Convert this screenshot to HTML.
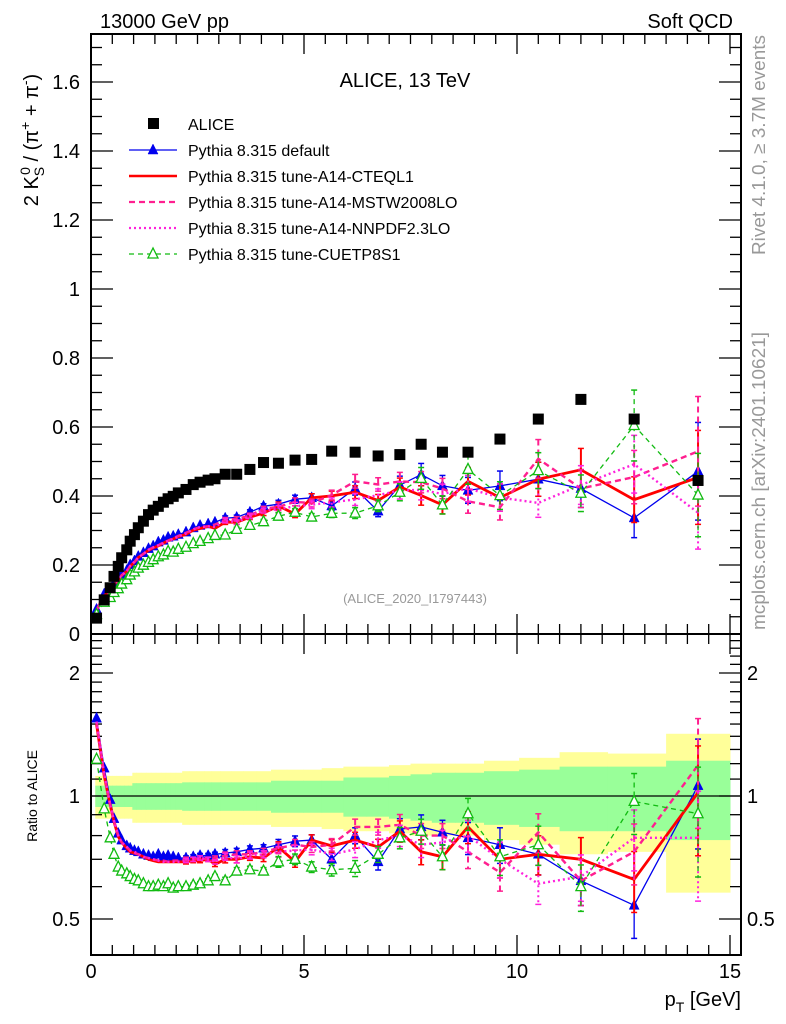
<!DOCTYPE html>
<html><head><meta charset="utf-8"><style>
body{margin:0;background:#fff;}
svg{display:block;font-family:"Liberation Sans",sans-serif;}
</style></head><body>
<svg id="chart" width="786" height="1024" viewBox="0 0 786 1024" xmlns="http://www.w3.org/2000/svg">
<defs>
<clipPath id="cm"><rect x="91" y="34" width="650" height="600"/></clipPath>
<clipPath id="cr"><rect x="91" y="634" width="650" height="321"/></clipPath>
</defs>
<g id="bands" clip-path="url(#cr)"></g>
<g id="grid"></g>
<g id="marks"></g>
<text x="100" y="28" font-size="20">13000 GeV pp</text>
<text x="733" y="28" font-size="20" text-anchor="end">Soft QCD</text>
<text x="405" y="87" font-size="20" text-anchor="middle">ALICE, 13 TeV</text>
<text x="415" y="603" font-size="13" fill="#999" text-anchor="middle">(ALICE_2020_I1797443)</text>
<text transform="translate(765,255) rotate(-90)" font-size="18.5" fill="#999" textLength="220" lengthAdjust="spacingAndGlyphs">Rivet 4.1.0, ≥ 3.7M events</text>
<text transform="translate(765,630) rotate(-90)" font-size="18.5" fill="#999" textLength="298" lengthAdjust="spacingAndGlyphs">mcplots.cern.ch [arXiv:2401.10621]</text>
<text transform="translate(38,140) rotate(-90)" font-size="20" text-anchor="middle">2 K<tspan font-size="14" dy="6">S</tspan><tspan font-size="14" dy="-14" dx="-8">0</tspan><tspan dy="8"> / (π</tspan><tspan font-size="14" dy="-8">+</tspan><tspan dy="8"> + π</tspan><tspan font-size="14" dy="-8">-</tspan><tspan dy="8">)</tspan></text>
<text transform="translate(37,796) rotate(-90)" font-size="14" text-anchor="middle">Ratio to ALICE</text>
<text x="741" y="1006" font-size="20" text-anchor="end">p<tspan font-size="14" dy="6">T</tspan><tspan dy="-6"> [GeV]</tspan></text>
<g id="legend"></g>
</svg>
<script>
const pt=[0.13,0.31,0.45,0.54,0.64,0.72,0.84,0.92,1.02,1.11,1.23,1.35,1.46,1.58,1.70,1.81,1.93,2.05,2.23,2.40,2.56,2.75,2.91,3.15,3.42,3.73,4.05,4.4,4.79,5.18,5.65,6.2,6.74,7.25,7.75,8.25,8.85,9.6,10.5,11.5,12.75,14.25];
const alice=[0.046,0.099,0.134,0.167,0.196,0.221,0.244,0.269,0.288,0.308,0.327,0.346,0.359,0.370,0.382,0.392,0.399,0.409,0.419,0.433,0.440,0.446,0.450,0.463,0.463,0.477,0.497,0.495,0.504,0.506,0.530,0.527,0.516,0.52,0.55,0.527,0.527,0.565,0.623,0.68,0.623,0.445];
const ratioDefault=[1.55,1.17,0.98,0.88,0.81,0.78,0.755,0.745,0.735,0.73,0.72,0.715,0.71,0.72,0.71,0.715,0.71,0.705,0.705,0.71,0.715,0.715,0.72,0.725,0.73,0.74,0.745,0.76,0.775,0.78,0.70,0.80,0.69,0.83,0.84,0.815,0.79,0.76,0.72,0.62,0.54,1.06];
const ratioCTEQ=[1.50,1.12,0.95,0.865,0.795,0.77,0.745,0.73,0.725,0.72,0.71,0.70,0.695,0.69,0.69,0.69,0.69,0.69,0.69,0.695,0.695,0.70,0.68,0.70,0.70,0.71,0.705,0.75,0.69,0.78,0.755,0.78,0.75,0.82,0.73,0.71,0.84,0.70,0.72,0.70,0.625,1.02];
const ratioMSTW=[1.52,1.13,0.955,0.87,0.80,0.77,0.75,0.735,0.725,0.72,0.71,0.705,0.70,0.695,0.695,0.69,0.695,0.695,0.70,0.70,0.705,0.70,0.705,0.715,0.72,0.72,0.73,0.745,0.76,0.75,0.76,0.84,0.84,0.85,0.80,0.80,0.73,0.65,0.815,0.62,0.73,1.19];
const ratioNNPDF=[1.52,1.13,0.95,0.87,0.80,0.77,0.75,0.735,0.73,0.72,0.71,0.705,0.70,0.695,0.69,0.69,0.69,0.69,0.695,0.70,0.705,0.70,0.69,0.71,0.70,0.715,0.72,0.73,0.735,0.74,0.72,0.74,0.78,0.80,0.76,0.77,0.80,0.70,0.61,0.635,0.79,0.79];
const ratioCUETP=[1.23,0.93,0.79,0.72,0.67,0.655,0.645,0.635,0.625,0.62,0.61,0.60,0.60,0.605,0.60,0.61,0.595,0.60,0.60,0.605,0.61,0.62,0.635,0.62,0.655,0.66,0.655,0.69,0.70,0.67,0.66,0.665,0.72,0.79,0.82,0.71,0.905,0.71,0.76,0.60,0.97,0.905];
const modelRelErr=[0.006,0.006,0.006,0.006,0.006,0.006,0.006,0.006,0.006,0.006,0.006,0.006,0.006,0.006,0.006,0.006,0.006,0.006,0.012,0.012,0.012,0.012,0.012,0.02,0.02,0.02,0.02,0.03,0.03,0.03,0.035,0.045,0.045,0.06,0.07,0.07,0.09,0.1,0.11,0.13,0.17,0.3];
const totalUnc=[0.12,0.12,0.12,0.12,0.12,0.12,0.12,0.12,0.14,0.14,0.14,0.14,0.14,0.14,0.14,0.14,0.14,0.14,0.15,0.15,0.15,0.15,0.15,0.15,0.15,0.15,0.15,0.16,0.16,0.16,0.17,0.18,0.18,0.19,0.2,0.2,0.2,0.22,0.24,0.28,0.27,0.42];
const statUnc=[0.06,0.06,0.06,0.06,0.06,0.06,0.06,0.06,0.075,0.075,0.075,0.075,0.075,0.075,0.075,0.075,0.075,0.075,0.08,0.08,0.08,0.08,0.08,0.08,0.08,0.08,0.08,0.09,0.09,0.09,0.09,0.11,0.11,0.12,0.13,0.14,0.14,0.15,0.16,0.18,0.18,0.22];
const xTickLabels=["0","5","10","15"];
const yTickLabels=["0","0.2","0.4","0.6","0.8","1","1.2","1.4","1.6"];
const ratioTickLabels=["0.5","1","2"];

const NS="http://www.w3.org/2000/svg";
const X=p=>91+p*42.6;
const Y=v=>634-v*345;
const R=r=>796-123*Math.log2(r);
function mk(tag,attrs,parent){const e=document.createElementNS(NS,tag);for(const k in attrs)e.setAttribute(k,attrs[k]);parent.appendChild(e);return e;}
const grid=document.getElementById('grid'),marks=document.getElementById('marks'),bands=document.getElementById('bands');

const edges=[0.1];
for(let i=0;i<pt.length-1;i++)edges.push((pt[i]+pt[i+1])/2);
edges.push(15);
[[totalUnc,'#ffff99'],[statUnc,'#99ff99']].forEach(([u,c],bi)=>{
  for(let i=0;i<pt.length;i++){
    const r=mk('rect',{x:X(edges[i]),y:R(1+u[i]),width:X(edges[i+1])-X(edges[i])+0.5,height:R(1-u[i])-R(1+u[i]),fill:c},bands);
    
    
  }
});

mk('rect',{x:91,y:34,width:650,height:600,fill:'none',stroke:'#000','stroke-width':2},grid);
mk('rect',{x:91,y:634,width:650,height:321,fill:'none',stroke:'#000','stroke-width':2},grid);
mk('line',{x1:91,y1:796,x2:741,y2:796,stroke:'#000','stroke-width':1.2},grid);
for(let k=0;k<=30;k++){
  const p=k*0.5,x=X(p),L=(k%10==0)?20:10;
  mk('line',{x1:x,y1:634,x2:x,y2:634-L,stroke:'#000','stroke-width':1.3},grid);
  mk('line',{x1:x,y1:34,x2:x,y2:34+L,stroke:'#000','stroke-width':1.3},grid);
  mk('line',{x1:x,y1:955,x2:x,y2:955-L,stroke:'#000','stroke-width':1.3},grid);
  mk('line',{x1:x,y1:634,x2:x,y2:634+L,stroke:'#000','stroke-width':1.3},grid);
}
xTickLabels.forEach((t,i)=>{const e=mk('text',{x:X(i*5),y:978,'font-size':20,'text-anchor':'middle'},grid);e.textContent=t;

});
for(let k=0;k<=34;k++){
  const v=k*0.05,y=Y(v),L=(k%4==0)?22:11;
  mk('line',{x1:91,y1:y,x2:91+L,y2:y,stroke:'#000','stroke-width':1.3},grid);
  mk('line',{x1:741,y1:y,x2:741-L,y2:y,stroke:'#000','stroke-width':1.3},grid);
}
yTickLabels.forEach((t,i)=>{const e=mk('text',{x:80,y:Y(i*0.2)+7,'font-size':20,'text-anchor':'end'},grid);e.textContent=t;

});
const rt=[0.5,0.6,0.7,0.8,0.9,1,1.1,1.2,1.3,1.4,1.5,1.6,1.7,1.8,1.9,2,2.1,2.2,2.3,2.4];
rt.forEach(r=>{const y=R(r),L=(r==0.5||r==1||r==2)?22:11;
  mk('line',{x1:91,y1:y,x2:91+L,y2:y,stroke:'#000','stroke-width':1.3},grid);
  mk('line',{x1:741,y1:y,x2:741-L,y2:y,stroke:'#000','stroke-width':1.3},grid);});
ratioTickLabels.forEach(t=>{const v=parseFloat(t);
  const a=mk('text',{x:80,y:R(v)+7,'font-size':20,'text-anchor':'end'},grid);a.textContent=t;
  
  
  const b=mk('text',{x:747,y:R(v)+7,'font-size':20},grid);b.textContent=t;
  
  });

const series=[
 {name:'pythia-default',r:ratioDefault,c:'#0000ee',w:1.3,dash:'',m:'tri'},
 {name:'pythia-a14-cteql1',r:ratioCTEQ,c:'#ff0000',w:2.8,dash:'',m:''},
 {name:'pythia-a14-mstw2008lo',r:ratioMSTW,c:'#ff1f8f',w:2.4,dash:'6,4',m:''},
 {name:'pythia-a14-nnpdf23lo',r:ratioNNPDF,c:'#ff22dd',w:2.4,dash:'2,3',m:''},
 {name:'pythia-cuetp8s1',r:ratioCUETP,c:'#11bb11',w:1.3,dash:'5,4',m:'otri'}
];
function tri(g,x,y,c,open,nm){const s=5;const p=mk('polygon',{points:`${x},${y-s-1} ${x-s},${y+s-1} ${x+s},${y+s-1}`,fill:open?'#fff':c,stroke:c,'stroke-width':open?1.3:0.5},g);

}
[[1,'main'],[0,'ratio']].forEach(([isMain,pane])=>{
 const gp=mk('g',{'clip-path':isMain?'url(#cm)':'url(#cr)'},marks);
 series.forEach(s=>{
  const g=mk('g',{},gp);
  
  
  const ys=s.r.map((r,i)=>isMain?Y(r*alice[i]):R(r));
  const d=pt.map((p,i)=>(i?'L':'M')+X(p).toFixed(1)+','+ys[i].toFixed(1)).join(' ');
  mk('path',{d:d,fill:'none',stroke:s.c,'stroke-width':s.w,'stroke-dasharray':s.dash},g);
  pt.forEach((p,i)=>{
    const v=isMain?s.r[i]*alice[i]:s.r[i],e=v*modelRelErr[i];
    const y1=isMain?Y(v+e):R(v+e),y2=isMain?Y(v-e):R(v-e),x=X(p);
    if(y2-y1>3){mk('line',{x1:x,y1:y1,x2:x,y2:y2,stroke:s.c,'stroke-width':Math.min(s.w,2),'stroke-dasharray':s.dash},g);
      mk('line',{x1:x-3,y1:y1,x2:x+3,y2:y1,stroke:s.c,'stroke-width':1.5},g);
      mk('line',{x1:x-3,y1:y2,x2:x+3,y2:y2,stroke:s.c,'stroke-width':1.5},g);}
    if(s.m)tri(g,x,ys[i],s.c,s.m=='otri',s.name+'-marker');
  });
 });
 if(isMain){
  const ga=mk('g',{},gp);
  
  
  pt.forEach((p,i)=>{const q=mk('rect',{x:X(p)-5.5,y:Y(alice[i])-5.5,width:11,height:11,fill:'#000'},ga);
    
    });
 }
});

const lg=document.getElementById('legend');
const legItems=[['ALICE','#000','','sq',1],['Pythia 8.315 default','#0000ee','','tri',1.3],['Pythia 8.315 tune-A14-CTEQL1','#ff0000','','',2.6],['Pythia 8.315 tune-A14-MSTW2008LO','#ff1f8f','6,4','',2.2],['Pythia 8.315 tune-A14-NNPDF2.3LO','#ff22dd','2,3','',2.2],['Pythia 8.315 tune-CUETP8S1','#11bb11','5,4','otri',1.3]];
legItems.forEach((it,i)=>{
  const y=124+i*26;
  const g=mk('g',{},lg);
  
  
  if(it[3]=='sq'){mk('rect',{x:148,y:y-6,width:11,height:11,fill:'#000'},g);}
  else{mk('line',{x1:129,y1:y,x2:177,y2:y,stroke:it[1],'stroke-width':it[4],'stroke-dasharray':it[2]},g);
    if(it[3])tri(g,153,y,it[1],it[3]=='otri','legend-marker');}
  const t=mk('text',{x:188,y:y+6,'font-size':16},g);t.textContent=it[0];
});
</script>
</body></html>
